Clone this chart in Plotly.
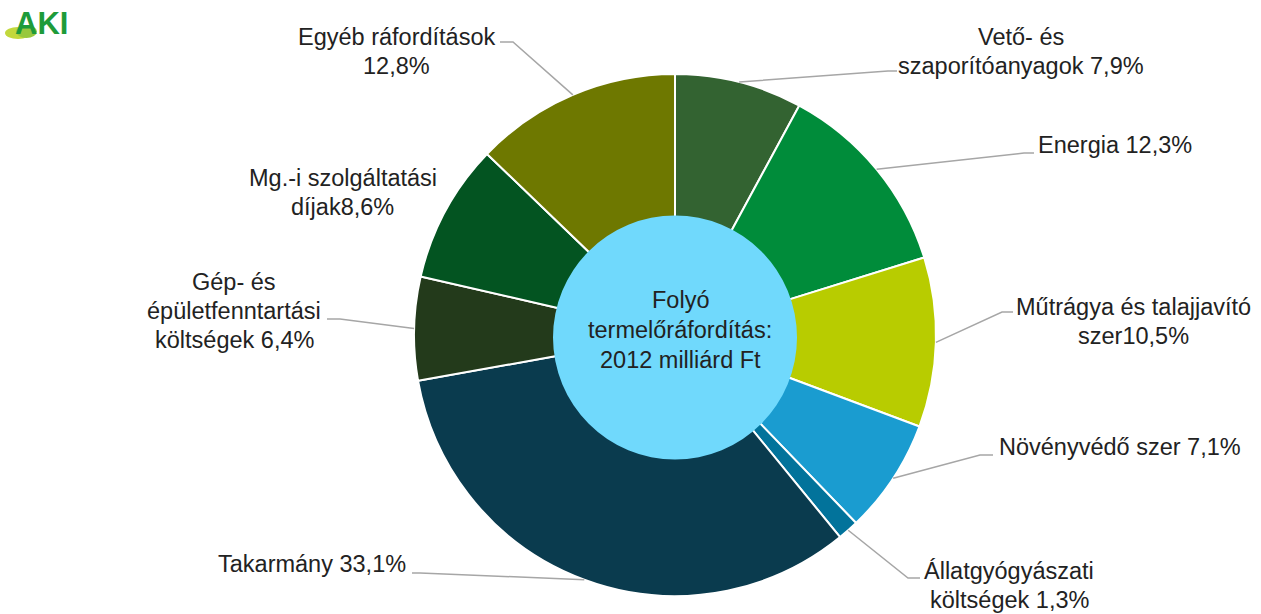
import math
import plotly.graph_objects as go

W, H = 1261, 614

# ---- data ----
categories = [
    "Vető- és szaporítóanyagok",
    "Energia",
    "Műtrágya és talajjavító szer",
    "Növényvédő szer",
    "Állatgyógyászati költségek",
    "Takarmány",
    "Gép- és épületfenntartási költségek",
    "Mg.-i szolgáltatási díjak",
    "Egyéb ráfordítások",
]
shares = [7.9, 12.3, 10.5, 7.1, 1.3, 33.1, 6.4, 8.6, 12.8]
label_lines = [
    ["Vető- és", "szaporítóanyagok 7,9%"],
    ["Energia 12,3%"],
    ["Műtrágya és talajjavító", "szer10,5%"],
    ["Növényvédő szer 7,1%"],
    ["Állatgyógyászati", "költségek 1,3%"],
    ["Takarmány 33,1%"],
    ["Gép- és", "épületfenntartási", "költségek 6,4%"],
    ["Mg.-i szolgáltatási", "díjak8,6%"],
    ["Egyéb ráfordítások", "12,8%"],
]
center_lines = ["Folyó", "termelőráfordítás:", "2012 milliárd Ft"]

# ---- style ----
colors = ["#336331", "#008c3a", "#b8cc00", "#1a9cd0", "#02739b",
          "#0a3b4e", "#233a1b", "#035421", "#6e7800"]
CX, CY, R = 675, 335, 261            # pie centre / radius in px
HOLE_R, HOLE_CY = 122, 337.5
label_pos = [(1021, 51), (1115, 145), (1133, 321), (1120, 447), (1009, 585),
             (312, 564), (234, 311), (343, 192), (396, 51)]
elbows = [((888, 71), (897, 71)), ((1024, 153), (1034, 153)),
          ((1002, 312), (1013, 312)), ((980, 455), (993, 455)),
          ((908, 578), (920, 578)), ((420, 573), (412, 573)),
          ((340, 319), (327, 319)), None, ((513, 42), (500, 42))]
FONT = "Liberation Sans"
FS = 23.5
LINE_H = 29
TXT = "#222222"


def px(x):
    return x / W


def py(y):
    return 1 - y / H


fig = go.Figure()
fig.add_trace(go.Pie(
    labels=categories, values=shares, sort=False, direction="clockwise",
    rotation=0, hole=0.44, textinfo="none", showlegend=False,
    hoverinfo="label+percent",
    marker=dict(colors=colors, line=dict(color="white", width=2)),
    domain=dict(x=[px(CX - R), px(CX + R)], y=[py(CY + R), py(CY - R)]),
))

shapes = []
annotations = []

# centre disc
shapes.append(dict(type="circle", xref="paper", yref="paper", layer="above",
                   x0=px(CX - HOLE_R), x1=px(CX + HOLE_R),
                   y0=py(HOLE_CY + HOLE_R), y1=py(HOLE_CY - HOLE_R),
                   fillcolor="#70d9fc", line=dict(width=0)))

# leader lines from slice mid-angles
total = sum(shares)
cum = 0.0
for v, el in zip(shares, elbows):
    mid = (cum + v / 2) / total * 2 * math.pi
    cum += v
    if el is None:
        continue
    sx = CX + R * math.sin(mid)
    sy = CY - R * math.cos(mid)
    (ex, ey), (tx, ty) = el
    path = f"M {px(sx)},{py(sy)} L {px(ex)},{py(ey)} L {px(tx)},{py(ty)}"
    shapes.append(dict(type="path", xref="paper", yref="paper", layer="above",
                       path=path, line=dict(color="#a6a6a6", width=1.5)))


def add_block(lines, cx, cy, spacing=LINE_H):
    n = len(lines)
    for i, t in enumerate(lines):
        yy = cy + (i - (n - 1) / 2) * spacing
        annotations.append(dict(text=t, x=px(cx), y=py(yy), xref="paper", yref="paper",
                                xanchor="center", yanchor="middle", showarrow=False,
                                font=dict(family=FONT, size=FS, color=TXT)))


for lines, (lx, ly) in zip(label_lines, label_pos):
    add_block(lines, lx, ly)
add_block(center_lines, 680, 330, 30)

# logo
shapes.append(dict(type="circle", xref="paper", yref="paper", layer="above",
                   x0=px(5), x1=px(31), y0=py(39), y1=py(27),
                   fillcolor="#c2d83c", line=dict(width=0)))
shapes.append(dict(type="circle", xref="paper", yref="paper", layer="above",
                   x0=px(16), x1=px(37), y0=py(38), y1=py(25),
                   fillcolor="#97c83e", line=dict(width=0)))
annotations.append(dict(text="<b>AKI</b>", x=px(13), y=py(23), xref="paper", yref="paper",
                        xanchor="left", yanchor="middle", showarrow=False,
                        font=dict(family="Liberation Sans Narrow, Liberation Sans", size=31,
                                  color="#1e9b3a")))

fig.update_layout(
    width=W, height=H, margin=dict(l=0, r=0, t=0, b=0),
    paper_bgcolor="white", plot_bgcolor="white",
    shapes=shapes, annotations=annotations,
)
fig.write_html("out.html", config={"displayModeBar": False},
               post_script="document.body.style.margin='0';")
